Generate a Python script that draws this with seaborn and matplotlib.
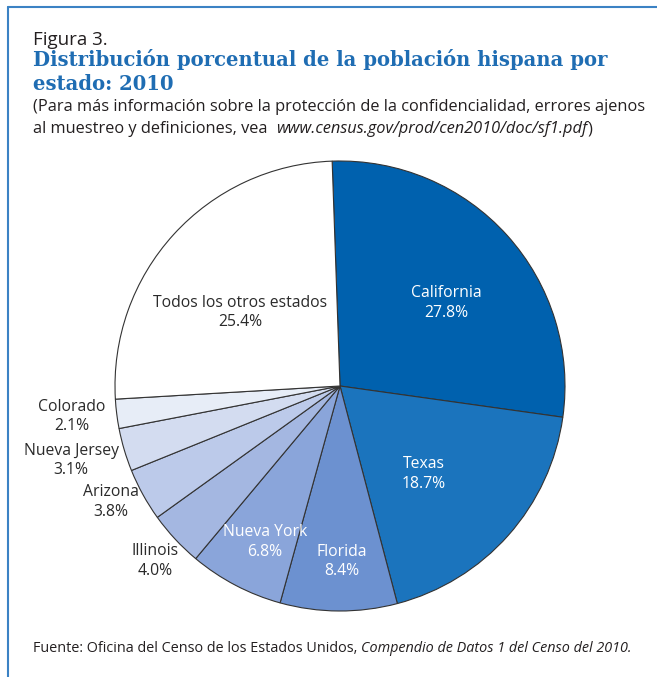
import matplotlib
matplotlib.use("Agg")
import matplotlib.pyplot as plt
import seaborn as sns
import numpy as np
from matplotlib.lines import Line2D

estados = ["California", "Texas", "Florida", "Nueva York", "Illinois",
           "Arizona", "Nueva Jersey", "Colorado", "Todos los otros estados"]
porcentajes = [27.8, 18.7, 8.4, 6.8, 4.0, 3.8, 3.1, 2.1, 25.4]
colores = ["#0061ae", "#1b74bd", "#6c91d0", "#8aa5da", "#a4b7e1",
           "#bccaea", "#d3dcf0", "#e7edf7", "#ffffff"]
# label placement: radial distance (fraction of radius), angle nudge (deg), text colour
label_r = [0.60, 0.54, 0.78, 0.77, 1.13, 1.14, 1.24, 1.20, 0.55]
label_dang = [-4, -5, 1, 2, 0.5, -2, -1, -0.6, 6]
label_c = ["white", "white", "white", "white", "#2a2a2a", "#2a2a2a",
           "#2a2a2a", "#2a2a2a", "#2a2a2a"]

sns.set_theme(style="white")
plt.rcParams["font.family"] = ["Open Sans", "DejaVu Sans"]

W, H = 657, 677
fig = plt.figure(figsize=(W / 100, H / 100), dpi=100)
fig.patch.set_facecolor("white")


def px(x, y):
    return x / W, 1 - y / H


# pie axes: centre (340, 386) px, radius 225 px
R = 225
cx, cy = 340, 386
half = R * 1.05
ax = fig.add_axes([(cx - half) / W, (H - cy - half) / H, 2 * half / W, 2 * half / H])
wedges, _ = ax.pie(porcentajes, colors=colores, startangle=92, counterclock=False,
                   wedgeprops=dict(edgecolor="#333333", linewidth=0.8))
ax.set_xlim(-1.05, 1.05)
ax.set_ylim(-1.05, 1.05)
ax.set_aspect("equal")
ax.axis("off")

for w, name, val, r, da, c in zip(wedges, estados, porcentajes, label_r, label_dang, label_c):
    ang = np.deg2rad((w.theta1 + w.theta2) / 2 + da)
    ax.text(r * np.cos(ang), r * np.sin(ang), f"{name}\n{val:.1f}%",
            ha="center", va="center", color=c, fontsize=11.3, linespacing=1.3)

# frame
fig.add_artist(Line2D([8 / W, 8 / W], [0, 1 - 7 / H], color="#3b82c4", lw=1.5,
                      transform=fig.transFigure))
fig.add_artist(Line2D([8 / W, 1], [1 - 7 / H, 1 - 7 / H], color="#3b82c4", lw=1.5,
                      transform=fig.transFigure))

dark = "#231f20"
fig.text(*px(33, 40), "Figura 3.", fontsize=13.5, color=dark, va="center")
for y, line in [(60, "Distribución porcentual de la población hispana por"),
                (84, "estado: 2010")]:
    fig.text(*px(33, y), line, fontsize=14.1, color="#1f6db3", fontweight="bold",
             family="DejaVu Serif", va="center")
fig.text(*px(33, 107), "(Para más información sobre la protección de la confidencialidad, errores ajenos",
         fontsize=11.8, color=dark, va="center")

renderer = fig.canvas.get_renderer()


def chain(x, y, parts, size):
    for s, style in parts:
        t = fig.text(*px(x, y), s, fontsize=size, color=dark, va="center", style=style)
        bb = t.get_window_extent(renderer)
        x += bb.width


chain(33, 129, [("al muestreo y definiciones, vea  ", "normal"),
                ("www.census.gov/prod/cen2010/doc/sf1.pdf", "italic"),
                (")", "normal")], 11.8)
chain(33, 649, [("Fuente: Oficina del Censo de los Estados Unidos, ", "normal"),
                ("Compendio de Datos 1 del Censo del 2010.", "italic")], 10.4)

fig.savefig("out.png", dpi=100)
